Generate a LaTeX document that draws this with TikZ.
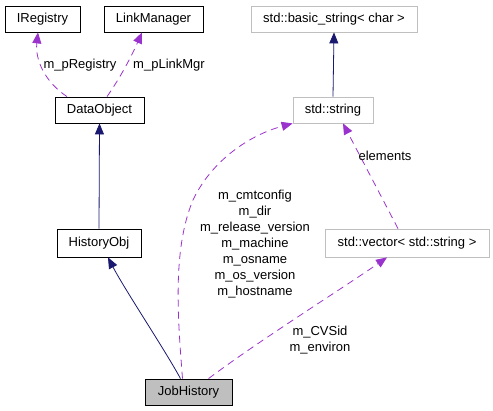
\documentclass[tikz,border=0pt]{standalone}
\usepackage{fontspec}
\setmainfont{Liberation Sans}
\usetikzlibrary{arrows.meta}
\definecolor{navy}{HTML}{191970}
\definecolor{purp}{HTML}{9A32CD}
\definecolor{lgray}{HTML}{BFBFBF}
\begin{document}
\begin{tikzpicture}[x=1pt,y=-1pt,
  font=\fontsize{13}{16}\selectfont,
  box/.style={draw=black,line width=0.8pt,inner sep=0pt,minimum height=26pt},
  gbox/.style={draw=lgray,line width=0.8pt,inner sep=0pt,minimum height=26pt},
  inh/.style={draw=navy,line width=0.8pt,-{Triangle[length=11pt,width=9pt]}},
  use/.style={draw=purp,line width=0.8pt,dash pattern=on 7pt off 5pt,-{Triangle[length=11pt,width=9pt]}},
  lbl/.style={inner sep=0pt,align=center}]
\useasboundingbox (0,0) rectangle (493,410);
\node[box,minimum width=75pt] (ireg) at (42.5,19) {IRegistry};
\node[box,minimum width=99pt] (lmgr) at (153.5,19) {LinkManager};
\node[gbox,minimum width=166pt] (bstr) at (334,19) {std::basic\_string< char >};
\node[box,minimum width=89pt] (dobj) at (99.5,110) {DataObject};
\node[gbox,minimum width=80pt] (str) at (333,110) {std::string};
\node[box,minimum width=84pt,minimum height=28pt] (hist) at (99,243) {HistoryObj};
\node[gbox,minimum width=164pt,minimum height=28pt] (vec) at (407,243) {std::vector< std::string >};
\node[box,fill=lgray,minimum width=87pt] (job) at (188.5,392) {JobHistory};

\draw[inh] (hist.north) -- (dobj.south);
\draw[inh] (str.north) -- (bstr.south);
\draw[use] ([xshift=-32.5pt]dobj.north) .. controls (45,82) and (35,60) .. ([xshift=-4.5pt]ireg.south);
\draw[use] ([xshift=7.5pt]dobj.north) .. controls (122,75) and (132,55) .. ([xshift=-11.5pt]lmgr.south);
\draw[inh] ([xshift=-8pt]job.north) .. controls (165,350) and (125,290) .. ([xshift=9pt]hist.south);
\draw[use] ([xshift=-6pt]job.north) .. controls (178,320) and (172,250) .. (193,200) .. controls (212,160) and (250,135) .. (str.south west);
\draw[use] ([xshift=20pt]job.north) .. controls (260,340) and (340,290) .. ([xshift=-20pt]vec.south);
\draw[use] ([xshift=-9pt]vec.north) -- ([xshift=10pt]str.south);

\node[lbl] (l1) at (80,65) {m\_pRegistry};
\node[lbl] (l2) at (169,65) {m\_pLinkMgr};
\node[lbl] (l3) at (385,156) {elements};
\node[lbl] (l4) at (255,244) {m\_cmtconfig\\m\_dir\\m\_release\_version\\m\_machine\\m\_osname\\m\_os\_version\\m\_hostname};
\node[lbl] (l5) at (320,340) {m\_CVSid\\m\_environ};
\end{tikzpicture}
\end{document}
